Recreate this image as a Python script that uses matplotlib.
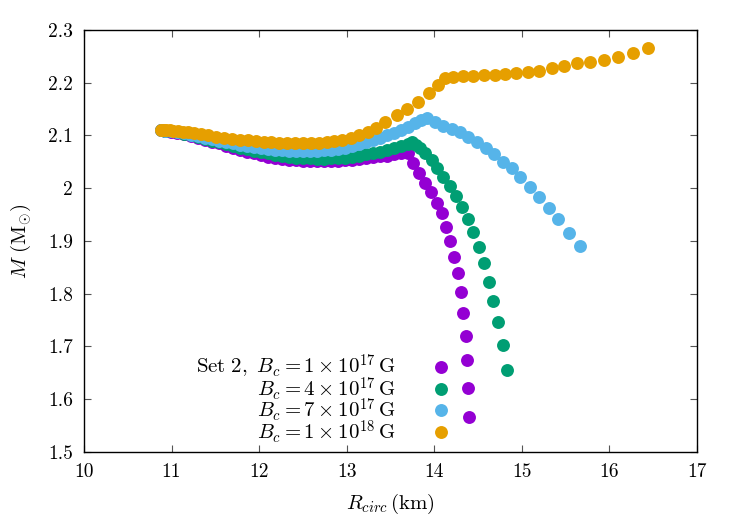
import matplotlib
matplotlib.use("Agg")
import matplotlib.pyplot as plt

# Mass-radius data, Set 2, four central magnetic fields
r_b1e17 = [10.88, 10.93, 10.99, 11.06, 11.14, 11.22, 11.30, 11.38, 11.46, 11.54,
           11.62, 11.70, 11.78, 11.86, 11.94, 12.02, 12.10, 12.18, 12.26, 12.34,
           12.42, 12.50, 12.58, 12.66, 12.74, 12.82, 12.90, 12.98, 13.06, 13.14,
           13.22, 13.30, 13.38, 13.46, 13.54, 13.62, 13.70, 13.76, 13.83, 13.89,
           13.96, 14.03, 14.09, 14.13, 14.18, 14.23, 14.27, 14.31, 14.33, 14.36,
           14.37, 14.39, 14.40]
m_b1e17 = [2.110, 2.109, 2.107, 2.105, 2.102, 2.099, 2.096, 2.092, 2.088, 2.085,
           2.081, 2.077, 2.073, 2.069, 2.066, 2.063, 2.060, 2.058, 2.056, 2.054,
           2.053, 2.052, 2.051, 2.051, 2.051, 2.051, 2.052, 2.053, 2.054, 2.056,
           2.057, 2.059, 2.061, 2.062, 2.064, 2.066, 2.067, 2.048, 2.029, 2.010,
           1.993, 1.972, 1.953, 1.927, 1.900, 1.870, 1.839, 1.803, 1.764, 1.720,
           1.675, 1.621, 1.566]

r_b4e17 = [10.88, 10.93, 10.99, 11.06, 11.14, 11.22, 11.30, 11.38, 11.46, 11.54,
           11.62, 11.70, 11.78, 11.86, 11.94, 12.02, 12.10, 12.18, 12.26, 12.34,
           12.42, 12.50, 12.58, 12.66, 12.74, 12.82, 12.90, 12.98, 13.06, 13.14,
           13.22, 13.30, 13.38, 13.46, 13.54, 13.62, 13.70, 13.75, 13.79, 13.84,
           13.89, 13.97, 14.03, 14.10, 14.18, 14.25, 14.32, 14.39, 14.44, 14.51,
           14.57, 14.63, 14.67, 14.73, 14.79, 14.83]
m_b4e17 = [2.110, 2.109, 2.108, 2.106, 2.103, 2.100, 2.097, 2.094, 2.090, 2.087,
           2.083, 2.080, 2.077, 2.074, 2.071, 2.068, 2.066, 2.063, 2.061, 2.060,
           2.058, 2.057, 2.057, 2.056, 2.056, 2.057, 2.057, 2.058, 2.060, 2.062,
           2.064, 2.066, 2.069, 2.072, 2.076, 2.080, 2.084, 2.088, 2.082, 2.076,
           2.067, 2.054, 2.038, 2.021, 2.004, 1.985, 1.964, 1.942, 1.917, 1.889,
           1.858, 1.822, 1.786, 1.746, 1.703, 1.655]

r_b7e17 = [10.88, 10.93, 10.99, 11.06, 11.14, 11.22, 11.30, 11.38, 11.46, 11.54,
           11.62, 11.70, 11.78, 11.86, 11.94, 12.02, 12.10, 12.18, 12.26, 12.34,
           12.42, 12.50, 12.58, 12.66, 12.74, 12.82, 12.90, 12.98, 13.06, 13.14,
           13.22, 13.30, 13.38, 13.46, 13.54, 13.62, 13.70, 13.78, 13.85, 13.92,
           14.01, 14.10, 14.20, 14.29, 14.39, 14.49, 14.59, 14.68, 14.79, 14.89,
           14.98, 15.09, 15.20, 15.31, 15.41, 15.54, 15.66]
m_b7e17 = [2.110, 2.109, 2.108, 2.107, 2.104, 2.101, 2.099, 2.096, 2.093, 2.090,
           2.087, 2.085, 2.082, 2.080, 2.078, 2.076, 2.074, 2.073, 2.072, 2.071,
           2.071, 2.070, 2.070, 2.071, 2.072, 2.073, 2.075, 2.077, 2.080, 2.083,
           2.087, 2.091, 2.095, 2.100, 2.105, 2.111, 2.117, 2.124, 2.130, 2.133,
           2.126, 2.118, 2.112, 2.107, 2.097, 2.088, 2.076, 2.065, 2.050, 2.038,
           2.021, 2.002, 1.983, 1.963, 1.942, 1.915, 1.890]

r_b1e18 = [10.88, 10.91, 10.94, 10.98, 11.02, 11.07, 11.13, 11.19, 11.26, 11.34,
           11.42, 11.51, 11.60, 11.69, 11.78, 11.87, 11.96, 12.05, 12.14, 12.23,
           12.32, 12.41, 12.50, 12.59, 12.68, 12.77, 12.86, 12.95, 13.05, 13.14,
           13.24, 13.34, 13.44, 13.57, 13.69, 13.81, 13.94, 14.04, 14.12, 14.21,
           14.33, 14.44, 14.57, 14.69, 14.81, 14.93, 15.07, 15.20, 15.34, 15.48,
           15.63, 15.78, 15.94, 16.10, 16.27, 16.44]
m_b1e18 = [2.111, 2.111, 2.110, 2.110, 2.109, 2.108, 2.107, 2.106, 2.104, 2.102,
           2.100, 2.098, 2.096, 2.094, 2.092, 2.091, 2.089, 2.088, 2.087, 2.086,
           2.085, 2.085, 2.085, 2.085, 2.086, 2.087, 2.089, 2.091, 2.095, 2.100,
           2.106, 2.115, 2.126, 2.139, 2.150, 2.164, 2.181, 2.196, 2.209, 2.211,
           2.213, 2.213, 2.214, 2.215, 2.217, 2.218, 2.220, 2.222, 2.228, 2.232,
           2.237, 2.239, 2.243, 2.249, 2.256, 2.266]

labels = [r'$\mathrm{Set\ 2,}\ B_c = 1 \times 10^{17}\,\mathrm{G}$',
          r'$B_c = 4 \times 10^{17}\,\mathrm{G}$',
          r'$B_c = 7 \times 10^{17}\,\mathrm{G}$',
          r'$B_c = 1 \times 10^{18}\,\mathrm{G}$']
colors = ['#9400D3', '#009E73', '#56B4E9', '#E69F00']

xticks = [10, 11, 12, 13, 14, 15, 16, 17]
yticks = [1.5, 1.6, 1.7, 1.8, 1.9, 2.0, 2.1, 2.2, 2.3]
ytick_labels = ['1.5', '1.6', '1.7', '1.8', '1.9', '2', '2.1', '2.2', '2.3']

plt.rcParams['mathtext.fontset'] = 'cm'
plt.rcParams['font.family'] = 'serif'
plt.rcParams['font.serif'] = ['cmr10', 'DejaVu Serif']
plt.rcParams['axes.formatter.use_mathtext'] = True

fig = plt.figure(figsize=(7.47, 5.26), dpi=100)
ax = fig.add_axes([0.1124, 0.1407, 0.8207, 0.8023])

series = [(r_b1e17, m_b1e17), (r_b4e17, m_b4e17), (r_b7e17, m_b7e17), (r_b1e18, m_b1e18)]
for (r, m), lab, c in zip(series, labels, colors):
    ax.plot(r, m, 'o', ls='none', color=c, markersize=9.3, markeredgewidth=0, label=lab)

ax.set_xlim(10, 17)
ax.set_ylim(1.5, 2.3)
ax.set_xticks(xticks)
ax.set_xticklabels([str(t) for t in xticks])
ax.set_yticks(yticks)
ax.set_yticklabels(ytick_labels)
ax.tick_params(direction='in', length=5, width=0.8, top=True, right=True,
               labelsize=14, pad=8, color='#555555')
for s in ax.spines.values():
    s.set_linewidth(1.0)

ax.set_xlabel(r'$R_{circ}\,(\mathrm{km})$', fontsize=15, labelpad=8)
ax.set_ylabel(r'$M\ (\mathrm{M}_{\odot})$', fontsize=15, labelpad=11)

ax.legend(loc='lower right', bbox_to_anchor=(0.623, -0.02), markerfirst=False,
          frameon=False, fontsize=15, handletextpad=1.65, labelspacing=-0.3,
          handlelength=1.0, borderaxespad=0.3)

plt.savefig('out.png', dpi=100)
